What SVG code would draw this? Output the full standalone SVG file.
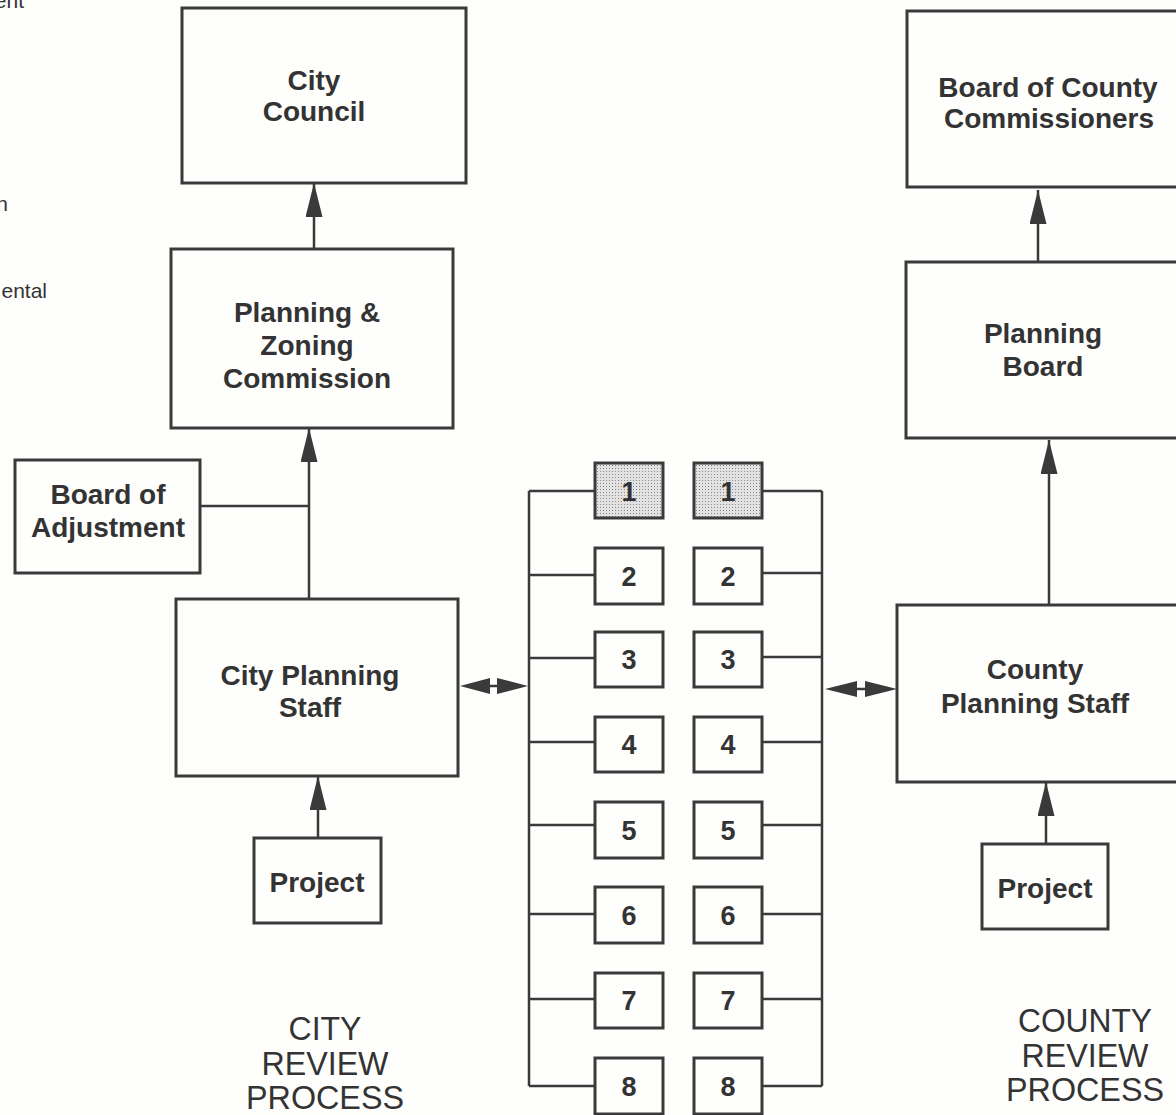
<svg xmlns="http://www.w3.org/2000/svg" width="1176" height="1115" viewBox="0 0 1176 1115">
<defs>
<style>
.box{fill:none;stroke:#3a3a3a;stroke-width:3}
.ln{fill:none;stroke:#3a3a3a;stroke-width:2.5}
.t{font-family:"Liberation Sans",Arial,sans-serif;font-weight:bold;font-size:28px;fill:#333;text-anchor:middle}
.n{font-family:"Liberation Sans",Arial,sans-serif;font-weight:bold;font-size:27px;fill:#333;text-anchor:middle}
.title{font-family:"Liberation Sans",Arial,sans-serif;font-size:34px;fill:#333;text-anchor:middle}
.frag{font-family:"Liberation Sans",Arial,sans-serif;font-size:21px;fill:#333;text-anchor:end}
.head{fill:#3a3a3a}
</style>
<pattern id="dots" width="3" height="3" patternUnits="userSpaceOnUse">
<rect width="3" height="3" fill="#e2e2e2"/>
<rect width="1" height="1" fill="#8a8a8a"/>
</pattern>
<marker id="ah" viewBox="0 0 34 17" refX="34" refY="8.5" markerWidth="34" markerHeight="17" markerUnits="userSpaceOnUse" orient="auto">
<path d="M0,0 L34,8.5 L0,17 Z" class="head"/>
</marker>
</defs>
<rect width="1176" height="1115" fill="#fefefc"/>

<g id="fragments">
<text class="frag" x="24" y="8">ent</text>
<text class="frag" x="8" y="211">n</text>
<text class="frag" x="47" y="298">ental</text>
</g>

<g id="connectors">
<path class="ln" d="M314,249 V183" marker-end="url(#ah)"/>
<path class="ln" d="M309,599 V428" marker-end="url(#ah)"/>
<path class="ln" d="M200,506 H309"/>
<path class="ln" d="M318,838 V776" marker-end="url(#ah)"/>
<path class="ln" d="M1038,262 V190" marker-end="url(#ah)"/>
<path class="ln" d="M1049,605 V440" marker-end="url(#ah)"/>
<path class="ln" d="M1046,844 V782" marker-end="url(#ah)"/>
<path class="ln" d="M529,491 V1086"/>
<path class="ln" d="M529,491 H595 M529,575 H595 M529,658 H595 M529,742 H595 M529,825 H595 M529,914 H595 M529,999 H595 M529,1086 H595"/>
<path class="ln" d="M822,491 V1086"/>
<path class="ln" d="M762,491 H822 M762,573 H822 M762,657 H822 M762,742 H822 M762,825 H822 M762,914 H822 M762,999 H822 M762,1086 H822"/>
<g id="dbl-left">
<path class="ln" d="M488,686 H499" stroke-width="2"/>
<path class="head" d="M460,686 L490,678 L490,694 Z"/>
<path class="head" d="M528,686 L497,678 L497,694 Z"/>
</g>
<g id="dbl-right">
<path class="ln" d="M855,689 H867" stroke-width="2"/>
<path class="head" d="M825,689 L857,681 L857,697 Z"/>
<path class="head" d="M897,689 L865,681 L865,697 Z"/>
</g>
</g>

<g id="city-council">
<rect class="box" x="182" y="8" width="284" height="175"/>
<text class="t" x="314" y="90">City</text>
<text class="t" x="314" y="121">Council</text>
</g>
<g id="planning-zoning">
<rect class="box" x="171" y="249" width="282" height="179"/>
<text class="t" x="307" y="322">Planning &amp;</text>
<text class="t" x="307" y="355">Zoning</text>
<text class="t" x="307" y="388">Commission</text>
</g>
<g id="board-of-adjustment">
<rect class="box" x="15" y="460" width="185" height="113"/>
<text class="t" x="108" y="504">Board of</text>
<text class="t" x="108" y="537">Adjustment</text>
</g>
<g id="city-planning-staff">
<rect class="box" x="176" y="599" width="282" height="177"/>
<text class="t" x="310" y="685">City Planning</text>
<text class="t" x="310" y="717">Staff</text>
</g>
<g id="project-city">
<rect class="box" x="254" y="838" width="127" height="85"/>
<text class="t" x="317" y="892">Project</text>
</g>

<g id="board-county-commissioners">
<rect class="box" x="907" y="11" width="290" height="176"/>
<text class="t" x="1048" y="97">Board of County</text>
<text class="t" x="1049" y="128">Commissioners</text>
</g>
<g id="planning-board">
<rect class="box" x="906" y="262" width="290" height="176"/>
<text class="t" x="1043" y="343">Planning</text>
<text class="t" x="1043" y="376">Board</text>
</g>
<g id="county-planning-staff">
<rect class="box" x="897" y="605" width="300" height="177"/>
<text class="t" x="1035" y="679">County</text>
<text class="t" x="1035" y="713">Planning Staff</text>
</g>
<g id="project-county">
<rect class="box" x="982" y="844" width="126" height="85"/>
<text class="t" x="1045" y="898">Project</text>
</g>

<g id="city-agencies">
<g id="c1"><rect class="box" x="595" y="463" width="68" height="55" style="fill:url(#dots)"/><text class="n" x="629" y="501">1</text></g>
<g id="c2"><rect class="box" x="595" y="548" width="68" height="56"/><text class="n" x="629" y="586">2</text></g>
<g id="c3"><rect class="box" x="595" y="632" width="68" height="55"/><text class="n" x="629" y="669">3</text></g>
<g id="c4"><rect class="box" x="595" y="717" width="68" height="55"/><text class="n" x="629" y="754">4</text></g>
<g id="c5"><rect class="box" x="595" y="802" width="68" height="56"/><text class="n" x="629" y="840">5</text></g>
<g id="c6"><rect class="box" x="595" y="887" width="68" height="56"/><text class="n" x="629" y="925">6</text></g>
<g id="c7"><rect class="box" x="595" y="973" width="68" height="55"/><text class="n" x="629" y="1010">7</text></g>
<g id="c8"><rect class="box" x="595" y="1058" width="68" height="56"/><text class="n" x="629" y="1096">8</text></g>
</g>
<g id="county-agencies">
<g id="k1"><rect class="box" x="694" y="463" width="68" height="55" style="fill:url(#dots)"/><text class="n" x="728" y="501">1</text></g>
<g id="k2"><rect class="box" x="694" y="548" width="68" height="56"/><text class="n" x="728" y="586">2</text></g>
<g id="k3"><rect class="box" x="694" y="632" width="68" height="55"/><text class="n" x="728" y="669">3</text></g>
<g id="k4"><rect class="box" x="694" y="717" width="68" height="55"/><text class="n" x="728" y="754">4</text></g>
<g id="k5"><rect class="box" x="694" y="802" width="68" height="56"/><text class="n" x="728" y="840">5</text></g>
<g id="k6"><rect class="box" x="694" y="887" width="68" height="56"/><text class="n" x="728" y="925">6</text></g>
<g id="k7"><rect class="box" x="694" y="973" width="68" height="55"/><text class="n" x="728" y="1010">7</text></g>
<g id="k8"><rect class="box" x="694" y="1058" width="68" height="56"/><text class="n" x="728" y="1096">8</text></g>
</g>

<g id="city-title">
<text class="title" x="325" y="1040" textLength="73" lengthAdjust="spacingAndGlyphs">CITY</text>
<text class="title" x="325" y="1075" textLength="127" lengthAdjust="spacingAndGlyphs">REVIEW</text>
<text class="title" x="325" y="1109" textLength="158" lengthAdjust="spacingAndGlyphs">PROCESS</text>
</g>
<g id="county-title">
<text class="title" x="1085" y="1032" textLength="134" lengthAdjust="spacingAndGlyphs">COUNTY</text>
<text class="title" x="1085" y="1067" textLength="127" lengthAdjust="spacingAndGlyphs">REVIEW</text>
<text class="title" x="1085" y="1101" textLength="158" lengthAdjust="spacingAndGlyphs">PROCESS</text>
</g>
</svg>
